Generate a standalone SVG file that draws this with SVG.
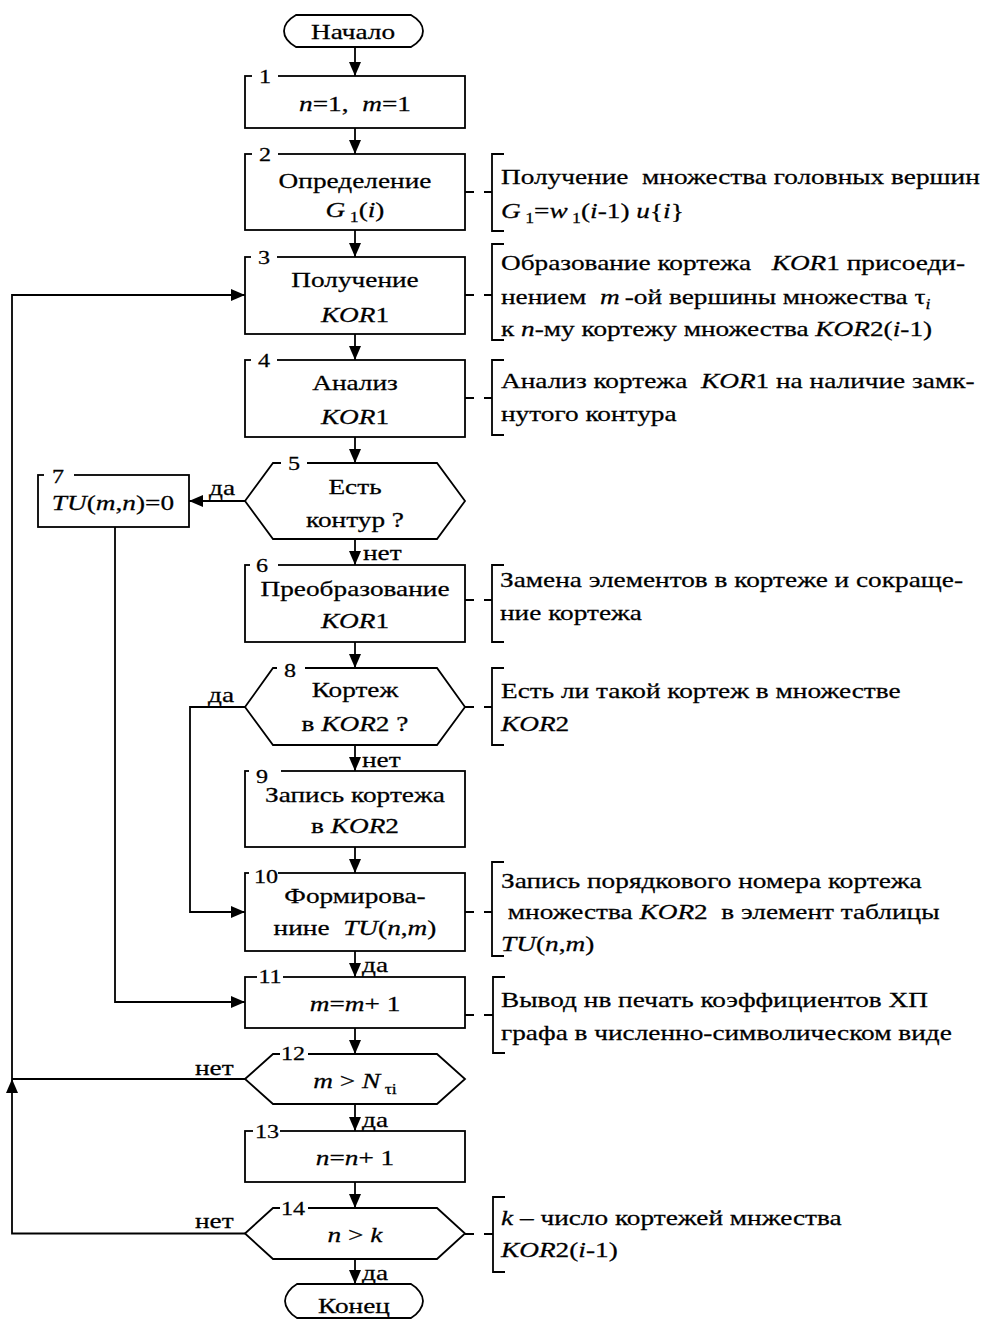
<svg xmlns="http://www.w3.org/2000/svg" width="982" height="1319" viewBox="0 0 982 1319">
<style>
.t{font-family:"Liberation Serif","Times New Roman",serif;font-size:21.5px;fill:#000;stroke:#000;stroke-width:0.25;white-space:pre}
.n{font-size:19px}
.i{font-style:italic}
.s{font-size:14px}
.m{text-anchor:middle}
.ln{fill:none;stroke:#000;stroke-width:1.8}
.sh{fill:#fff;stroke:#000;stroke-width:1.8}
.d{fill:none;stroke:#000;stroke-width:1.8;stroke-dasharray:9 10}
.br{fill:none;stroke:#000;stroke-width:1.8}
.gap{fill:#fff;stroke:none}
</style>
<defs>
<marker id="ah" markerUnits="userSpaceOnUse" markerWidth="15" markerHeight="13" refX="14" refY="6" orient="auto">
<path d="M0,0 L14,6 L0,12 Z" fill="#000"/>
</marker>
</defs>
<rect width="982" height="1319" fill="#fff"/>

<g id="connectors">
<line class="ln" x1="355" y1="47" x2="355" y2="76" marker-end="url(#ah)"/>
<line class="ln" x1="355" y1="128" x2="355" y2="154" marker-end="url(#ah)"/>
<line class="ln" x1="355" y1="230" x2="355" y2="257" marker-end="url(#ah)"/>
<line class="ln" x1="355" y1="334" x2="355" y2="360" marker-end="url(#ah)"/>
<line class="ln" x1="355" y1="437" x2="355" y2="463" marker-end="url(#ah)"/>
<line class="ln" x1="355" y1="539" x2="355" y2="565" marker-end="url(#ah)"/>
<line class="ln" x1="355" y1="642" x2="355" y2="668" marker-end="url(#ah)"/>
<line class="ln" x1="355" y1="745" x2="355" y2="771" marker-end="url(#ah)"/>
<line class="ln" x1="355" y1="847" x2="355" y2="873" marker-end="url(#ah)"/>
<line class="ln" x1="355" y1="951" x2="355" y2="977" marker-end="url(#ah)"/>
<line class="ln" x1="355" y1="1028" x2="355" y2="1054" marker-end="url(#ah)"/>
<line class="ln" x1="355" y1="1104" x2="355" y2="1131" marker-end="url(#ah)"/>
<line class="ln" x1="355" y1="1182" x2="355" y2="1208" marker-end="url(#ah)"/>
<line class="ln" x1="355" y1="1259" x2="355" y2="1284" marker-end="url(#ah)"/>
<line class="ln" x1="245" y1="501" x2="189" y2="501" marker-end="url(#ah)"/>
<polyline class="ln" points="115,527 115,1002 245,1002" marker-end="url(#ah)"/>
<polyline class="ln" points="245,707 190,707 190,912 245,912" marker-end="url(#ah)"/>
<line class="ln" x1="245" y1="1079" x2="12" y2="1079"/>
<polyline class="ln" points="245,1233.5 12,1233.5 12,1079" marker-end="url(#ah)"/>
<polyline class="ln" points="12,1079 12,295 245,295" marker-end="url(#ah)"/>
<line class="d" x1="465" y1="192" x2="492" y2="192"/>
<line class="d" x1="465" y1="295" x2="492" y2="295"/>
<line class="d" x1="465" y1="398" x2="492" y2="398"/>
<line class="d" x1="465" y1="600" x2="492" y2="600"/>
<line class="d" x1="465" y1="707" x2="492" y2="707"/>
<line class="d" x1="465" y1="912" x2="492" y2="912"/>
<line class="d" x1="465" y1="1015" x2="493" y2="1015"/>
<line class="d" x1="465" y1="1234" x2="493" y2="1234"/>
<text class="t" transform="translate(209 495) scale(1.27 1)">да</text>
<text class="t" transform="translate(363 560) scale(1.27 1)">нет</text>
<text class="t" transform="translate(208 702) scale(1.27 1)">да</text>
<text class="t" transform="translate(362 767) scale(1.27 1)">нет</text>
<text class="t" transform="translate(362 972) scale(1.27 1)">да</text>
<text class="t" transform="translate(195 1075) scale(1.27 1)">нет</text>
<text class="t" transform="translate(362 1127) scale(1.27 1)">да</text>
<text class="t" transform="translate(195 1228) scale(1.27 1)">нет</text>
<text class="t" transform="translate(362 1280) scale(1.27 1)">да</text>
</g>

<g id="start">
<path class="sh" d="M296,15 H411 C418,19 423,25 423,31 C423,37 418,43 411,47 H296 C289,43 284,37 284,31 C284,25 289,19 296,15 Z"/>
<text class="t m" transform="translate(353 39) scale(1.27 1)">Начало</text>
</g>

<g id="n1">
<rect class="sh" x="245" y="76" width="220" height="52"/>
<rect class="gap" x="252" y="73" width="26" height="6"/>
<text class="t n m" transform="translate(265 83) scale(1.27 1)">1</text>
<text class="t m" transform="translate(355 111) scale(1.27 1)"><tspan class="i">n</tspan>=1,  <tspan class="i">m</tspan>=1</text>
</g>

<g id="n2">
<rect class="sh" x="245" y="154" width="220" height="76"/>
<rect class="gap" x="252" y="151" width="26" height="6"/>
<text class="t n m" transform="translate(265 161) scale(1.27 1)">2</text>
<text class="t m" transform="translate(355 188) scale(1.27 1)">Определение</text>
<text class="t m" transform="translate(355 217) scale(1.27 1)"><tspan class="i">G</tspan><tspan class="s" dy="5"> 1</tspan><tspan dy="-5">(</tspan><tspan class="i">i</tspan>)</text>
</g>

<g id="a2">
<polyline class="br" points="504,154 492,154 492,231 504,231"/>
<text class="t" transform="translate(501 184) scale(1.27 1)">Получение  множества головных вершин</text>
<text class="t" transform="translate(501 218) scale(1.27 1)"><tspan class="i">G</tspan><tspan class="s" dy="5"> 1</tspan><tspan dy="-5">=</tspan><tspan class="i">w</tspan><tspan class="s" dy="5"> 1</tspan><tspan dy="-5">(</tspan><tspan class="i">i</tspan>-1) <tspan class="i">u</tspan>{<tspan class="i">i</tspan>}</text>
</g>

<g id="n3">
<rect class="sh" x="245" y="257" width="220" height="77"/>
<rect class="gap" x="251" y="254" width="26" height="6"/>
<text class="t n m" transform="translate(264 264) scale(1.27 1)">3</text>
<text class="t m" transform="translate(355 287) scale(1.27 1)">Получение</text>
<text class="t m" transform="translate(355 322) scale(1.27 1)"><tspan class="i">KOR</tspan>1</text>
</g>

<g id="a3">
<polyline class="br" points="504,244 492,244 492,340 504,340"/>
<text class="t" transform="translate(501 270) scale(1.27 1)">Образование кортежа   <tspan class="i">KOR</tspan>1 присоеди-</text>
<text class="t" transform="translate(501 304) scale(1.27 1)">нением  <tspan class="i">m</tspan><tspan dx="4">-ой вершины множества τ</tspan><tspan class="s i" dy="5">i</tspan></text>
<text class="t" transform="translate(501 336) scale(1.27 1)">к <tspan class="i">n</tspan>-му кортежу множества <tspan class="i">KOR</tspan>2(<tspan class="i">i</tspan>-1)</text>
</g>

<g id="n4">
<rect class="sh" x="245" y="360" width="220" height="77"/>
<rect class="gap" x="251" y="357" width="26" height="6"/>
<text class="t n m" transform="translate(264 367) scale(1.27 1)">4</text>
<text class="t m" transform="translate(355 390) scale(1.27 1)">Анализ</text>
<text class="t m" transform="translate(355 424) scale(1.27 1)"><tspan class="i">KOR</tspan>1</text>
</g>

<g id="a4">
<polyline class="br" points="504,360 492,360 492,435 504,435"/>
<text class="t" transform="translate(501 388) scale(1.27 1)">Анализ кортежа  <tspan class="i">KOR</tspan>1 на наличие замк-</text>
<text class="t" transform="translate(501 421) scale(1.27 1)">нутого контура</text>
</g>

<g id="n5">
<polygon class="sh" points="245,501 273,463 437,463 465,501 437,539 273,539"/>
<rect class="gap" x="281" y="460" width="26" height="6"/>
<text class="t n m" transform="translate(294 470) scale(1.27 1)">5</text>
<text class="t m" transform="translate(355 494) scale(1.27 1)">Есть</text>
<text class="t m" transform="translate(355 527) scale(1.27 1)">контур ?</text>
</g>

<g id="n7">
<rect class="sh" x="38" y="475" width="151" height="52"/>
<rect class="gap" x="44" y="472" width="30" height="6"/>
<text class="t n m" transform="translate(58 483) scale(1.27 1)">7</text>
<text class="t m" transform="translate(113 510) scale(1.27 1)"><tspan class="i">TU</tspan>(<tspan class="i">m</tspan>,<tspan class="i">n</tspan>)=0</text>
</g>

<g id="n6">
<rect class="sh" x="245" y="565" width="220" height="77"/>
<rect class="gap" x="250" y="562" width="28" height="6"/>
<text class="t n m" transform="translate(262 572) scale(1.27 1)">6</text>
<text class="t m" transform="translate(355 596) scale(1.27 1)">Преобразование</text>
<text class="t m" transform="translate(355 628) scale(1.27 1)"><tspan class="i">KOR</tspan>1</text>
</g>

<g id="a6">
<polyline class="br" points="504,565 492,565 492,642 504,642"/>
<text class="t" transform="translate(500 587) scale(1.27 1)">Замена элементов в кортеже и сокраще-</text>
<text class="t" transform="translate(500 620) scale(1.27 1)">ние кортежа</text>
</g>

<g id="n8">
<polygon class="sh" points="245,707 273,668 437,668 465,707 437,745 273,745"/>
<rect class="gap" x="277" y="665" width="28" height="6"/>
<text class="t n m" transform="translate(290 677) scale(1.27 1)">8</text>
<text class="t m" transform="translate(355 697) scale(1.27 1)">Кортеж</text>
<text class="t m" transform="translate(355 731) scale(1.27 1)">в <tspan class="i">KOR</tspan>2 ?</text>
</g>

<g id="a8">
<polyline class="br" points="504,668 492,668 492,745 504,745"/>
<text class="t" transform="translate(501 698) scale(1.27 1)">Есть ли такой кортеж в множестве</text>
<text class="t" transform="translate(501 731) scale(1.27 1)"><tspan class="i">KOR</tspan>2</text>
</g>

<g id="n9">
<rect class="sh" x="245" y="771" width="220" height="76"/>
<rect class="gap" x="249" y="768" width="32" height="6"/>
<text class="t n m" transform="translate(262 783) scale(1.27 1)">9</text>
<text class="t m" transform="translate(355 802) scale(1.27 1)">Запись кортежа</text>
<text class="t m" transform="translate(355 833) scale(1.27 1)">в <tspan class="i">KOR</tspan>2</text>
</g>

<g id="n10">
<rect class="sh" x="245" y="873" width="220" height="78"/>
<rect class="gap" x="249" y="870" width="29" height="6"/>
<text class="t n m" transform="translate(266 883) scale(1.27 1)">10</text>
<text class="t m" transform="translate(355 903) scale(1.27 1)">Формирова-</text>
<text class="t m" transform="translate(355 935) scale(1.27 1)">нине  <tspan class="i">TU</tspan>(<tspan class="i">n</tspan>,<tspan class="i">m</tspan>)</text>
</g>

<g id="a10">
<polyline class="br" points="504,862 492,862 492,956 504,956"/>
<text class="t" transform="translate(501 888) scale(1.27 1)">Запись порядкового номера кортежа</text>
<text class="t" transform="translate(501 919) scale(1.27 1)"> множества <tspan class="i">KOR</tspan>2  в элемент таблицы</text>
<text class="t" transform="translate(501 951) scale(1.27 1)"><tspan class="i">TU</tspan>(<tspan class="i">n</tspan>,<tspan class="i">m</tspan>)</text>
</g>

<g id="n11">
<rect class="sh" x="245" y="977" width="220" height="51"/>
<rect class="gap" x="257" y="974" width="26" height="6"/>
<text class="t n m" transform="translate(270 983) scale(1.27 1)">11</text>
<text class="t m" transform="translate(355 1011) scale(1.27 1)"><tspan class="i">m</tspan>=<tspan class="i">m</tspan>+ 1</text>
</g>

<g id="a11">
<polyline class="br" points="505,977 493,977 493,1053 505,1053"/>
<text class="t" transform="translate(501 1007) scale(1.27 1)">Вывод нв печать коэффициентов ХП</text>
<text class="t" transform="translate(501 1040) scale(1.27 1)">графа в численно-символическом виде</text>
</g>

<g id="n12">
<polygon class="sh" points="245,1079 273,1054 437,1054 465,1079 437,1104 273,1104"/>
<rect class="gap" x="280" y="1051" width="28" height="6"/>
<text class="t n m" transform="translate(293 1060) scale(1.27 1)">12</text>
<text class="t m" transform="translate(355 1088) scale(1.27 1)"><tspan class="i">m</tspan> &gt; <tspan class="i">N</tspan><tspan class="s" dy="6"> τi</tspan></text>
</g>

<g id="n13">
<rect class="sh" x="245" y="1131" width="220" height="51"/>
<rect class="gap" x="253" y="1128" width="27" height="6"/>
<text class="t n m" transform="translate(267 1138) scale(1.27 1)">13</text>
<text class="t m" transform="translate(355 1165) scale(1.27 1)"><tspan class="i">n</tspan>=<tspan class="i">n</tspan>+ 1</text>
</g>

<g id="n14">
<polygon class="sh" points="245,1233.5 273,1208 437,1208 465,1233.5 437,1259 273,1259"/>
<rect class="gap" x="280" y="1205" width="28" height="6"/>
<text class="t n m" transform="translate(293 1215) scale(1.27 1)">14</text>
<text class="t m" transform="translate(355 1242) scale(1.27 1)"><tspan class="i">n</tspan> &gt; <tspan class="i">k</tspan></text>
</g>

<g id="a14">
<polyline class="br" points="505,1197 493,1197 493,1272 505,1272"/>
<text class="t" transform="translate(501 1225) scale(1.27 1)"><tspan class="i">k</tspan> – число кортежей мнжества</text>
<text class="t" transform="translate(501 1257) scale(1.27 1)"><tspan class="i">KOR</tspan>2(<tspan class="i">i</tspan>-1)</text>
</g>

<g id="end">
<path class="sh" d="M297,1284 H411 C418,1288 423,1295 423,1301 C423,1307 418,1314 411,1318 H297 C290,1314 285,1307 285,1301 C285,1295 290,1288 297,1284 Z"/>
<text class="t m" transform="translate(354 1313) scale(1.27 1)">Конец</text>
</g>
</svg>
